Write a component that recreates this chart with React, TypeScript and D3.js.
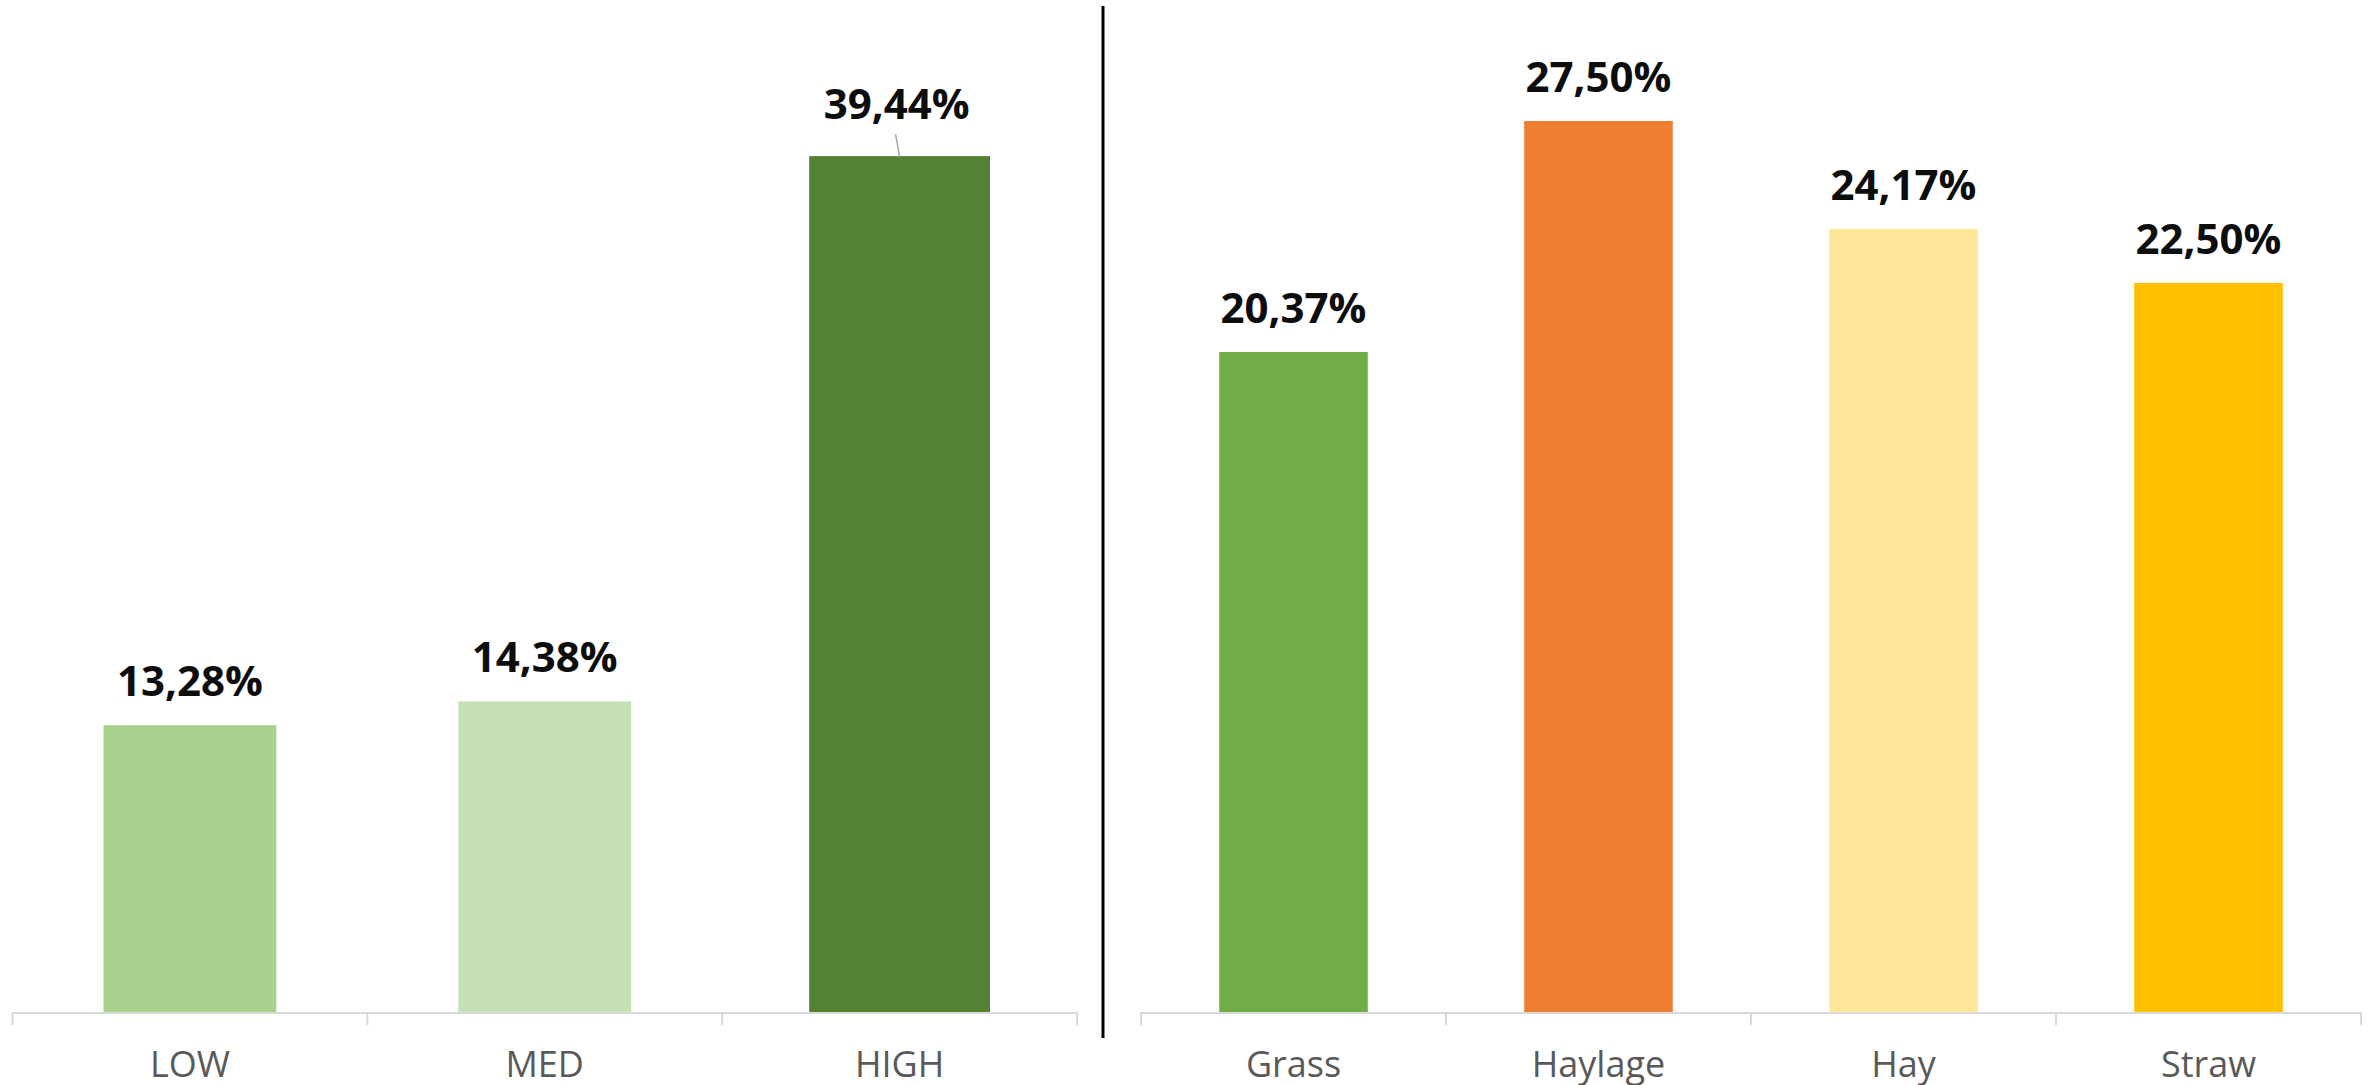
import React from "react";
import * as d3 from "d3";

const leftCategories = ["LOW", "MED", "HIGH"];
const leftValues = [13.28, 14.38, 39.44];
const leftLabels = ["13,28%", "14,38%", "39,44%"];
const leftColors = ["#A9D18E", "#C5E0B4", "#548235"];

const rightCategories = ["Grass", "Haylage", "Hay", "Straw"];
const rightValues = [20.37, 27.5, 24.17, 22.5];
const rightLabels = ["20,37%", "27,50%", "24,17%", "22,50%"];
const rightColors = ["#70AD47", "#ED7D31", "#FFE699", "#FFC000"];

const W = 2376;
const H = 1085;
const BASE = 1012;
const TOP = 40;
const FONT = "'Open Sans', 'Liberation Sans', sans-serif";

type PanelProps = {
  cats: string[];
  vals: number[];
  labels: string[];
  colors: string[];
  x0: number;
  x1: number;
  yMax: number;
  liftIndex?: number;
};

function Panel({ cats, vals, labels, colors, x0, x1, yMax, liftIndex }: PanelProps) {
  const x = d3.scaleBand<string>().domain(cats).range([x0, x1]).padding(0);
  const y = d3.scaleLinear().domain([0, yMax]).range([BASE, TOP]);
  const bw = x.bandwidth() * 0.487;
  return (
    <g>
      {cats.map((c, i) => {
        const cx = (x(c) as number) + x.bandwidth() / 2;
        const lifted = i === liftIndex;
        const extra = lifted ? 4 : 0;
        const top = y(vals[i]) - extra;
        const labelY = lifted ? top - 37 : top - 29;
        const labelX = lifted ? cx - 3 : cx;
        return (
          <g key={c}>
            <rect
              x={cx - bw / 2 - extra}
              y={top}
              width={bw + 2 * extra}
              height={BASE - top}
              fill={colors[i]}
            />
            {lifted && (
              <line x1={labelX - 1} y1={top - 22} x2={labelX + 3} y2={top + 1} stroke="#A6A6A6" strokeWidth={1.5} />
            )}
            <text
              x={labelX}
              y={labelY}
              textAnchor="middle"
              fontFamily={FONT}
              fontWeight={700}
              fontSize={42}
              fill="#0D0D0D"
            >
              {labels[i]}
            </text>
            <text
              x={cx}
              y={1077}
              textAnchor="middle"
              fontFamily={FONT}
              fontSize={36}
              fill="#595959"
            >
              {c}
            </text>
          </g>
        );
      })}
      <line x1={x0} x2={x1} y1={BASE + 1} y2={BASE + 1} stroke="#D9D9D9" strokeWidth={2} />
      {[...cats.map((c) => x(c) as number), x1].map((t, i) => (
        <line key={i} x1={t} x2={t} y1={BASE} y2={BASE + 13} stroke="#D9D9D9" strokeWidth={2} />
      ))}
    </g>
  );
}

export default function App() {
  return (
    <svg
      width={W}
      height={H}
      style={{ position: "absolute", left: 0, top: 0, background: "#fff" }}
    >
      <rect width={W} height={H} fill="#fff" />
      <Panel
        cats={leftCategories}
        vals={leftValues}
        labels={leftLabels}
        colors={leftColors}
        x0={12.5}
        x1={1077}
        yMax={45}
        liftIndex={2}
      />
      <Panel
        cats={rightCategories}
        vals={rightValues}
        labels={rightLabels}
        colors={rightColors}
        x0={1141}
        x1={2361}
        yMax={30}
      />
      <line x1={1103} x2={1103} y1={6} y2={1038} stroke="#000" strokeWidth={3} />
    </svg>
  );
}
